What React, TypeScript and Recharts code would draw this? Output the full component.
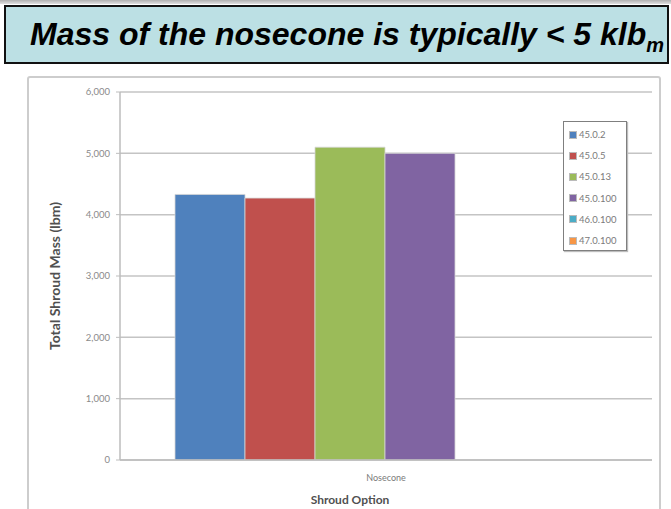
import React from "react";
import { BarChart, Bar, XAxis, YAxis, CartesianGrid } from "recharts";

const categories = ["Nosecone"];
const seriesNames = ["45.0.2", "45.0.5", "45.0.13", "45.0.100", "46.0.100", "47.0.100"];
const seriesValues: (number | null)[] = [4330, 4270, 5100, 5000, null, null];
const seriesColors = ["#4F81BD", "#C0504D", "#9BBB59", "#8064A2", "#4BACC6", "#F79646"];
const yTicks = [0, 1000, 2000, 3000, 4000, 5000, 6000];

const data = categories.map((c) => {
  const row: Record<string, any> = { category: c };
  seriesNames.forEach((s, i) => {
    row[s] = seriesValues[i];
  });
  return row;
});

const FONT = "Lato, 'Open Sans', sans-serif";

const LegendBox = () => (
  <div
    style={{
      position: "absolute",
      left: 563,
      top: 121,
      width: 64,
      height: 130,
      border: "1.5px solid #7F7F7F",
      background: "#fff",
      boxShadow: "1px 1px 1px #BDBDBD",
      boxSizing: "border-box",
      paddingTop: 2,
      paddingLeft: 5,
    }}
  >
    {seriesNames.map((s, i) => (
      <div
        key={s}
        style={{
          display: "flex",
          alignItems: "center",
          height: 21.2,
          fontFamily: FONT,
          fontSize: 9.5,
          color: "#7A7A7A",
        }}
      >
        <span
          style={{
            display: "inline-block",
            width: 6,
            height: 6,
            background: seriesColors[i],
            border: "0.5px solid #BBBBBB",
            marginRight: 2,
          }}
        />
        {s}
      </div>
    ))}
  </div>
);

export default function App() {
  return (
    <div style={{ position: "absolute", left: 0, top: 0, width: 671, height: 509, background: "#fff", overflow: "hidden" }}>
      <div style={{ position: "absolute", left: 0, top: 0, width: 671, height: 4, background: "linear-gradient(#B0B0B0, #E0E0E0)" }} />
      <div
        style={{
          position: "absolute",
          left: 4,
          top: 5,
          width: 665,
          height: 59,
          boxSizing: "border-box",
          border: "2.5px solid #111",
          background: "#BCE0E4",
        }}
      >
        <span
          style={{
            position: "absolute",
            left: 24,
            top: 9,
            whiteSpace: "nowrap",
            fontFamily: "'Liberation Sans', Arial, sans-serif",
            fontWeight: "bold",
            fontStyle: "italic",
            fontSize: 32,
            lineHeight: "36px",
            color: "#000",
          }}
        >
          Mass of the nosecone is typically &lt; 5 klb
          <sub style={{ fontSize: 20, verticalAlign: -7, lineHeight: 0 }}>m</sub>
        </span>
      </div>
      <div
        style={{
          position: "absolute",
          left: 27,
          top: 76,
          width: 634,
          height: 450,
          boxSizing: "border-box",
          border: "2px solid #CDCDCD",
          borderRadius: 3,
        }}
      />
      <div style={{ position: "absolute", left: 0, top: 0 }}>
        <BarChart
          width={671}
          height={509}
          data={data}
          margin={{ top: 92, right: 19, bottom: 0, left: 0 }}
          barCategoryGap={55}
          barGap={0}
        >
          <CartesianGrid vertical={false} stroke="#C4C4C4" strokeWidth={1.5} />
          <XAxis
            dataKey="category"
            height={49}
            tickLine={false}
            axisLine={{ stroke: "#BDBDBD", strokeWidth: 1.5 }}
            tick={{ fontFamily: FONT, fontSize: 9, fill: "#7A7A7A" }}
            tickMargin={9}
            label={{
              value: "Shroud Option",
              position: "insideBottom",
              dx: -36,
              offset: 5,
              fontFamily: FONT,
              fontSize: 12,
              fontWeight: "bold",
              fill: "#505050",
              style: { fontFamily: FONT, fontSize: 12, fontWeight: "bold", fill: "#505050" },
            }}
          />
          <YAxis
            width={120}
            domain={[0, 6000]}
            ticks={yTicks}
            interval={0}
            tickSize={4}
            tickMargin={6}
            tickLine={{ stroke: "#BDBDBD" }}
            axisLine={{ stroke: "#BDBDBD", strokeWidth: 1.5 }}
            tickFormatter={(v: number) => v.toLocaleString("en-US")}
            tick={{ fontFamily: FONT, fontSize: 9.5, fill: "#8A8A8A" }}
            label={{
              value: "Total Shroud Mass (lbm)",
              angle: -90,
              position: "insideLeft",
              dx: 50,
              dy: 0,
              fontFamily: FONT,
              fontSize: 14,
              fontWeight: "bold",
              fill: "#505050",
              style: { fontFamily: FONT, fontSize: 14, fontWeight: "bold", fill: "#505050", textAnchor: "middle" },
            }}
          />
          {seriesNames.map((s, i) => (
            <Bar
              key={s}
              dataKey={s}
              fill={seriesColors[i]}
              stroke="#D6D6D6"
              strokeWidth={0.8}
              isAnimationActive={false}
            />
          ))}
        </BarChart>
      </div>
      <LegendBox />
    </div>
  );
}
